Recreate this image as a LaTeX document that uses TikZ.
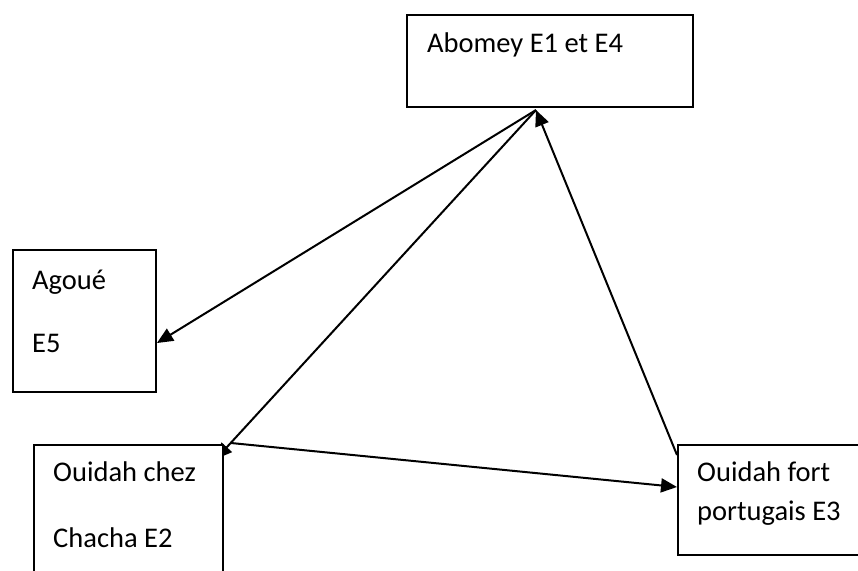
\documentclass[tikz,border=0pt]{standalone}
\usepackage{fontspec}
\setmainfont{Carlito}
\usetikzlibrary{arrows.meta}
\pgfdeclarelayer{bg}
\pgfsetlayers{bg,main}
\tikzset{
  box/.style={draw=black, line width=2pt, fill=white, inner sep=0pt, anchor=north west},
  lbl/.style={anchor=base west, inner sep=0pt, font=\fontsize{28.5}{34}\selectfont},
  conn/.style={line width=2pt, -{Triangle[length=16pt,width=14pt]}}
}
\begin{document}
\begin{tikzpicture}[x=1pt,y=-1pt]
\useasboundingbox (0,0) rectangle (858,570);
\clip (0,0) rectangle (858,570);
% boxes
\node[box, minimum width=286pt, minimum height=92pt] (abomey) at (406,14) {};
\node[box, minimum width=143pt, minimum height=142pt] (agoue) at (12,249) {};
\node[box, minimum width=189pt, minimum height=150pt] (chez) at (33,444) {};
\node[box, minimum width=200pt, minimum height=110pt] (fort) at (677,444) {};
% labels
\node[lbl] (t1) at (427,52) {Abomey E1 et E4};
\node[lbl] (t2) at (32,289) {Agoué};
\node[lbl] (t3) at (32,352) {E5};
\node[lbl] (t4) at (53,481) {Ouidah chez};
\node[lbl] (t5) at (53,547) {Chacha E2};
\node[lbl] (t6) at (697,481) {Ouidah fort};
\node[lbl] (t7) at (697,520) {portugais E3};
% connector points
\coordinate (apex) at (536,110);
\coordinate (agoueIn) at (157,343);
\coordinate (chezIn) at (216,459);
\coordinate (chezOut) at (231,443);
\coordinate (fortIn) at (677,487);
\coordinate (fortOut) at (677,455);
\begin{pgfonlayer}{bg}
\draw[conn] (apex) -- (agoueIn);
\draw[conn] (apex) -- (chezIn);
\draw[conn] (chezOut) -- (fortIn);
\draw[conn] (fortOut) -- (apex);
\end{pgfonlayer}
\end{tikzpicture}
\end{document}
